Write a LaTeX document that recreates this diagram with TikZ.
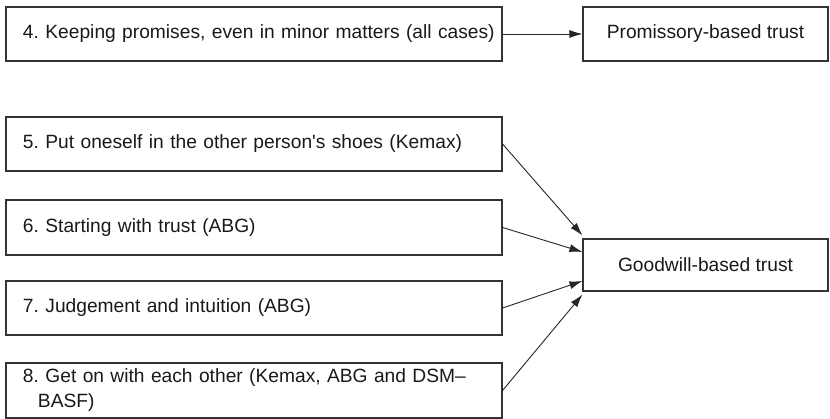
\documentclass[tikz,border=0pt]{standalone}
\usepackage{fontspec}
\setmainfont{Liberation Sans}
\usetikzlibrary{arrows.meta}
\begin{document}
\frenchspacing
\begin{tikzpicture}[x=1pt,y=-1pt,
  box/.style={draw=black!80, line width=1.1pt, rectangle, inner sep=0pt,
    text=black!90, font=\fontsize{19.2pt}{25pt}\selectfont},
  item/.style={box, minimum width=496pt, minimum height=54pt,
    text width=462pt, align=left},
  result/.style={box, minimum width=245pt, minimum height=54pt, align=center},
  link/.style={draw=black!85, line width=0.9pt, -{Latex[length=13pt,width=8pt]}}]
\useasboundingbox (0,0) rectangle (830,419);

% practices on the left
\node[item] (s4) at (254,34) {\mbox{4. Keeping promises, even in minor matters (all cases)}};
\node[item] (s5) at (254,144) {5. Put oneself in the other person\textquotesingle s shoes (Kemax)};
\node[item, minimum height=55pt] (s6) at (254,227.5) {6. Starting with trust (ABG)};
\node[item] (s7) at (254,308) {7. Judgement and intuition (ABG)};
\node[item, minimum height=55pt] (s8) at (254,390.5)
  {8. Get on with each other (Kemax, ABG and DSM–\\\hspace*{15pt}BASF)};

% kinds of trust on the right
\node[result] (pt) at (705.5,34) {Promissory-based trust};
\node[result, minimum height=52pt] (gt) at (705.5,265) {Goodwill-based trust};

% connectors
\draw[link] (s4.east) -- (pt.west);
\draw[link] (s5.east) -- ([yshift=3pt]gt.north west);
\draw[link] (s6.east) -- ([yshift=13pt]gt.west);
\draw[link] (s7.east) -- ([yshift=-16pt]gt.west);
\draw[link] (s8.east) -- ([yshift=-3pt]gt.south west);
\end{tikzpicture}
\end{document}
